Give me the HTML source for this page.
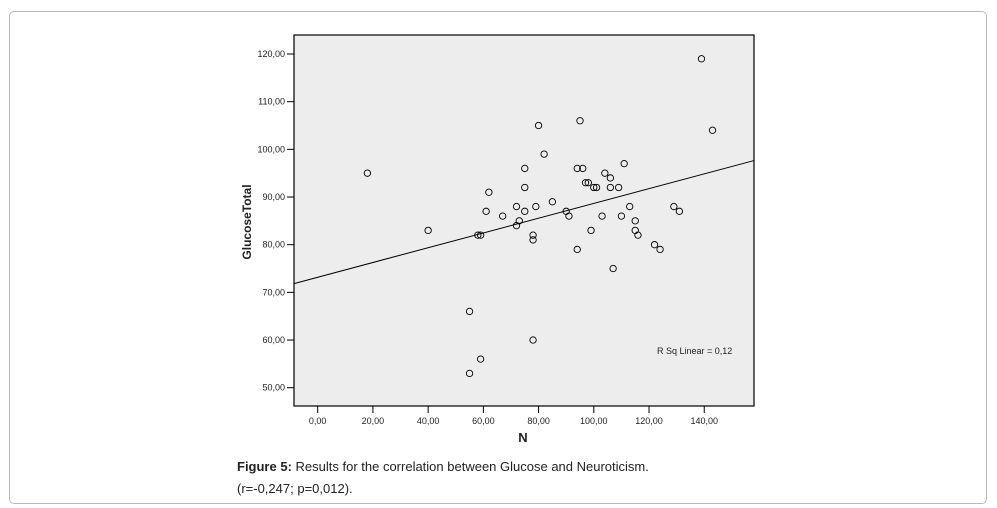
<!DOCTYPE html>
<html><head><meta charset="utf-8"><style>
html,body{margin:0;padding:0;background:#fff;width:997px;height:508px;overflow:hidden;font-family:"Liberation Sans",Arial,sans-serif}
#card{position:absolute;left:9px;top:11px;width:978px;height:493px;border:1px solid #b9b9b9;border-radius:5px;box-sizing:border-box}
.cap{position:absolute;left:237px;font-size:13px;color:#222}
</style></head><body>
<div id="card"></div>
<svg id="chart" width="997" height="508" style="position:absolute;left:0;top:0"></svg>
<div class="cap" style="top:459px"><b>Figure 5:</b> Results for the correlation between Glucose and Neuroticism.</div>
<div class="cap" style="top:481px">(r=-0,247; p=0,012).</div>
<script>
const xValues=[139,143,18,80,95,82,75,94,96,111,104,106,97,98,100,101,106,109,75,62,85,61,72,79,75,67,90,91,103,110,113,129,131,115,73,72,40,99,115,58,59,78,78,116,122,124,94,107,55,78,59,55];
const yValues=[119,104,95,105,106,99,96,96,96,97,95,94,93,93,92,92,92,92,92,91,89,87,88,88,87,86,87,86,86,86,88,88,87,85,85,84,83,83,83,82,82,82,81,82,80,79,79,75,66,60,56,53];
const xTicks=[0,20,40,60,80,100,120,140];
const yTicks=[50,60,70,80,90,100,110,120];
const fitLabel="R Sq Linear = 0,12";
const NS="http://www.w3.org/2000/svg";
const svg=document.getElementById('chart');
const L=294,R=754,T=35,B=406;
const sx=v=>317.7+v*2.761;
const sy=v=>387.7-(v-50)*4.767;
const xMin=(L-317.7)/2.761,xMax=(R-317.7)/2.761;
function mk(t,a){const e=document.createElementNS(NS,t);for(const k in a)e.setAttribute(k,a[k]);svg.appendChild(e);return e;}
const bg=mk('rect',{x:L,y:T,width:R-L,height:B-T,fill:'#ededed',stroke:'#000','stroke-width':1.2});


yTicks.forEach(v=>{
  const t=mk('line',{x1:287,x2:L,y1:sy(v),y2:sy(v),stroke:'#000'});
  
  
  const lb=mk('text',{x:285,y:sy(v)+3,'text-anchor':'end','font-size':9,fill:'#222'});
  lb.textContent=v.toFixed(2).replace('.',',');
  
  
});
xTicks.forEach(v=>{
  const t=mk('line',{x1:sx(v),x2:sx(v),y1:B,y2:413,stroke:'#000'});
  
  
  const lb=mk('text',{x:sx(v),y:424,'text-anchor':'middle','font-size':9,fill:'#222'});
  lb.textContent=v.toFixed(2).replace('.',',');
  
  
});
// regression
const n=xValues.length;let mx=0,my=0;for(let i=0;i<n;i++){mx+=xValues[i];my+=yValues[i];}mx/=n;my/=n;
let sxy=0,sxx=0;for(let i=0;i<n;i++){sxy+=(xValues[i]-mx)*(yValues[i]-my);sxx+=(xValues[i]-mx)**2;}
const slope=sxy/sxx,icpt=my-slope*mx;
const fl=mk('line',{x1:L,y1:sy(icpt+slope*xMin),x2:R,y2:sy(icpt+slope*xMax),stroke:'#000','stroke-width':1});


for(let i=0;i<n;i++){
  const c=mk('circle',{cx:sx(xValues[i]),cy:sy(yValues[i]),r:3.2,fill:'none',stroke:'#000','stroke-width':0.9});
  
  
}
const rs=mk('text',{x:657,y:354,'font-size':9,fill:'#222'});rs.textContent=fitLabel;


const xt=mk('text',{x:523,y:442,'text-anchor':'middle','font-size':13,'font-weight':'bold',fill:'#222'});xt.textContent='N';


const yt=mk('text',{x:0,y:0,'text-anchor':'middle','font-size':12,'font-weight':'bold',fill:'#222',transform:'translate(251,222) rotate(-90)'});yt.textContent='GlucoseTotal';


</script>
</body></html>
